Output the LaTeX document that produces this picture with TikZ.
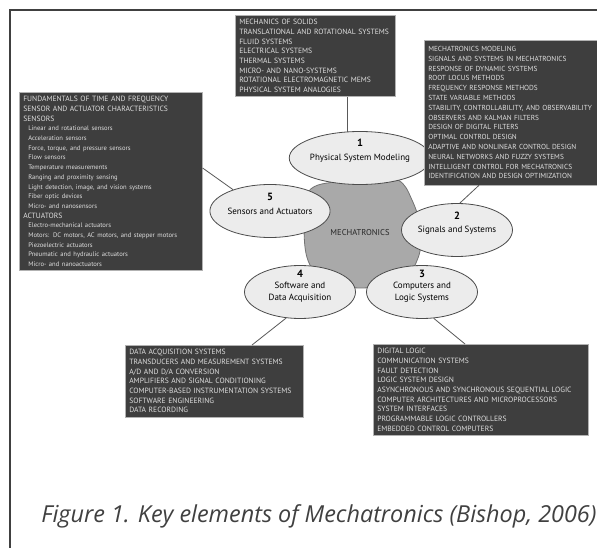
\documentclass[tikz,border=0pt]{standalone}
\usepackage{fontspec}
\usetikzlibrary{shapes.geometric,calc}
\newfontfamily\diagfont{PT Sans}
\newfontfamily\capfont{Open Sans}
\definecolor{boxgray}{HTML}{3E3E3E}
\definecolor{ellgray}{HTML}{ECECEC}
\definecolor{blobgray}{HTML}{A9A9A9}
\newcommand{\indline}[1]{\hspace*{5pt}{\fontsize{6.6}{9.7}\selectfont #1}}

\begin{document}
\begin{tikzpicture}[x=1pt, y=-1pt,
  topic/.style={rectangle, anchor=north west, fill=boxgray, draw=gray!60,
    line width=0.6pt, text=white!88!black, align=left,
    font=\diagfont\fontsize{7.6}{9.7}\selectfont, inner xsep=4pt, inner ysep=4pt},
  area/.style={ellipse, fill=ellgray, draw=black!70, line width=0.8pt,
    minimum width=111pt, minimum height=53pt, inner sep=0pt, align=center,
    font=\diagfont\fontsize{9}{12}\selectfont},
  num/.style={font=\diagfont\bfseries\fontsize{10.5}{12}\selectfont},
  link/.style={draw=black!65, line width=0.8pt}]

  \useasboundingbox (0,0) rectangle (597,548);
  \fill [white] (0,0) rectangle (597,548);

  % Frame
  \draw [black!75, line width=1.5pt] (10,548) -- (10,10) -- (597,10);

  % Core
  \path [fill=blobgray, draw=black!55, line width=0.8pt]
    plot [smooth cycle, tension=0.7] coordinates {(308,192) (340,181) (372,178)
    (398,180) (412,200) (420,228) (418,258) (400,280) (360,288) (330,280)
    (310,265) (304,230)};
  \node [font=\diagfont\fontsize{8.5}{10}\selectfont, text=black!85] (core)
    at (360,233) {MECHATRONICS};

  % Key elements
  \node [area] (physmod) at (360,158) {Physical System Modeling};
  \node [area] (signals) at (457,230) {Signals and Systems};
  \node [area] (computers) at (422,292) {Computers and\\Logic Systems};
  \node [area] (software) at (300,292) {Software and\\Data Acquisition};
  \node [area] (sensors) at (270,211) {Sensors and Actuators};

  \foreach \e/\n/\d in {physmod/1/15, signals/2/14, computers/3/18,
    software/4/18, sensors/5/14}{%
    \node [num] (num\n) at ([yshift=\d pt]\e.center) {\n};
  }

  % Topic lists
  \node [topic, text width=152pt] (physbox) at (235,15) {%
    MECHANICS OF SOLIDS\\
    TRANSLATIONAL AND ROTATIONAL SYSTEMS\\
    FLUID SYSTEMS\\
    ELECTRICAL SYSTEMS\\
    THERMAL SYSTEMS\\
    MICRO- AND NANO-SYSTEMS\\
    ROTATIONAL ELECTROMAGNETIC MEMS\\
    PHYSICAL SYSTEM ANALOGIES};

  \node [topic, text width=200pt, inner ysep=6pt,
    font=\diagfont\fontsize{7.3}{9.8}\selectfont] (sigbox) at (424,40) {%
    MECHATRONICS MODELING\\
    SIGNALS AND SYSTEMS IN MECHATRONICS\\
    RESPONSE OF DYNAMIC SYSTEMS\\
    ROOT LOCUS METHODS\\
    FREQUENCY RESPONSE METHODS\\
    STATE VARIABLE METHODS\\
    STABILITY, CONTROLLABILITY, AND OBSERVABILITY\\
    OBSERVERS AND KALMAN FILTERS\\
    DESIGN OF DIGITAL FILTERS\\
    OPTIMAL CONTROL DESIGN\\
    ADAPTIVE AND NONLINEAR CONTROL DESIGN\\
    NEURAL NETWORKS AND FUZZY SYSTEMS\\
    INTELLIGENT CONTROL FOR MECHATRONICS\\
    IDENTIFICATION AND DESIGN OPTIMIZATION};

  \node [topic, text width=175pt] (sensbox) at (19,92) {%
    FUNDAMENTALS OF TIME AND FREQUENCY\\
    SENSOR AND ACTUATOR CHARACTERISTICS\\
    SENSORS\\
    \indline{Linear and rotational sensors}\\
    \indline{Acceleration sensors}\\
    \indline{Force, torque, and pressure sensors}\\
    \indline{Flow sensors}\\
    \indline{Temperature measurements}\\
    \indline{Ranging and proximity sensing}\\
    \indline{Light detection, image, and vision systems}\\
    \indline{Fiber optic devices}\\
    \indline{Micro- and nanosensors}\\
    ACTUATORS\\
    \indline{Electro-mechanical actuators}\\
    \indline{Motors: DC motors, AC motors, and stepper motors}\\
    \indline{Piezoelectric actuators}\\
    \indline{Pneumatic and hydraulic actuators}\\
    \indline{Micro- and nanoactuators}};

  \node [topic, text width=170pt] (softbox) at (125,345) {%
    DATA ACQUISITION SYSTEMS\\
    TRANSDUCERS AND MEASUREMENT SYSTEMS\\
    A/D AND D/A CONVERSION\\
    AMPLIFIERS AND SIGNAL CONDITIONING\\
    COMPUTER-BASED INSTRUMENTATION SYSTEMS\\
    SOFTWARE ENGINEERING\\
    DATA RECORDING};

  \node [topic, text width=207pt] (compbox) at (373,344) {%
    DIGITAL LOGIC\\
    COMMUNICATION SYSTEMS\\
    FAULT DETECTION\\
    LOGIC SYSTEM DESIGN\\
    ASYNCHRONOUS AND SYNCHRONOUS SEQUENTIAL LOGIC\\
    COMPUTER ARCHITECTURES AND MICROPROCESSORS\\
    SYSTEM INTERFACES\\
    PROGRAMMABLE LOGIC CONTROLLERS\\
    EMBEDDED CONTROL COMPUTERS};

  % Links
  \draw [link] (physmod.115) -- (physmod.115 |- physbox.south);
  \draw [link] ($(sigbox.south west)+(55,0)$) -- (signals.84);
  \draw [link] ($(sensbox.north east)+(0,76)$) -- (sensors.150);
  \draw [link] ($(softbox.north west)+(127,0)$) -- (software.242);
  \draw [link] ($(compbox.north west)+(92,0)$) -- (computers.294);

  % Caption
  \node [font=\capfont\itshape\fontsize{23.4}{26}\selectfont, text=black!75]
    (caption) at (319,516) {Figure 1. Key elements of Mechatronics (Bishop, 2006)};

\end{tikzpicture}
\end{document}
